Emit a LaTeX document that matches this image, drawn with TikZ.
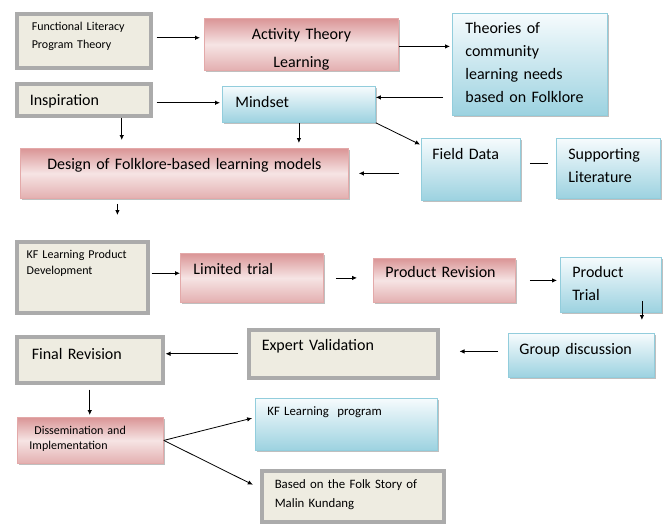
\documentclass[tikz,border=0pt]{standalone}
\usepackage{fontspec}
\setmainfont{Carlito}
\usepackage{tikz}
\usetikzlibrary{arrows.meta,shadows}

\definecolor{beige}{HTML}{EEECE1}
\definecolor{framegray}{HTML}{ABABAB}
\definecolor{pinkdark}{HTML}{DA9596}
\definecolor{pinklight}{HTML}{F6E4E4}
\definecolor{pinkline}{HTML}{E3A9A9}
\definecolor{bluedark}{HTML}{9CD2E0}
\definecolor{bluelight}{HTML}{F6FBFD}
\definecolor{blueline}{HTML}{92CDDC}

\begin{document}
\begin{tikzpicture}[x=1pt,y=-1pt,-{Latex[length=5pt,width=4.5pt]},line width=0.8pt]
	\tikzstyle{box} = [anchor=north west,inner ysep=0pt,align=left,font=\fontsize{16}{23}\selectfont]
	\tikzstyle{small} = [font=\fontsize{12}{18}\selectfont]
	\tikzstyle{frame} = [box,draw=framegray,line width=3.5pt,fill=beige,drop shadow={shadow xshift=1pt,shadow yshift=-2.5pt,fill=pinkdark!60!gray,opacity=0.6}]
	\tikzstyle{pinkbox} = [box,draw=pinkline,top color=pinkdark,bottom color=pinkdark!75!white,middle color=pinklight,drop shadow={shadow xshift=1.5pt,shadow yshift=-2pt,fill=black!50,opacity=0.5}]
	\tikzstyle{bluebox} = [box,draw=blueline,top color=bluelight,bottom color=bluedark,drop shadow={shadow xshift=1.5pt,shadow yshift=-2pt,fill=black!50,opacity=0.5}]

	\useasboundingbox (0,0) rectangle (667,525);

	% first rows
	\node[frame,small,inner xsep=15pt,text width=104pt,text height=17pt,text depth=37pt] (flpt) at (15,12) {Functional Literacy\\Program Theory};
	\node[pinkbox,align=center,inner xsep=0pt,text width=194pt,text height=21pt,text depth=31pt,font=\fontsize{16}{28}\selectfont] (act) at (204,18) {Activity Theory\\Learning};
	\node[bluebox,inner xsep=13pt,text width=129pt,text height=20pt,text depth=82pt] (theo) at (452,13) {Theories of\\community\\learning needs\\based on Folklore};
	\node[frame,inner xsep=13pt,text width=108pt,text height=22pt,text depth=10pt] (insp) at (15,82) {Inspiration};
	\node[bluebox,inner xsep=13pt,text width=127pt,text height=21pt,text depth=15pt] (mind) at (222,86) {Mindset};
	\node[pinkbox,align=center,inner xsep=0pt,text width=328pt,text height=21pt,text depth=29pt] (design) at (20,148) {Design of Folklore-based learning models};
	\node[bluebox,inner xsep=11pt,text width=77pt,text height=21pt,text depth=41pt] (field) at (421,138) {Field Data};
	\node[bluebox,inner xsep=12pt,text width=80pt,text height=21pt,text depth=39pt] (supp) at (556,138) {Supporting\\Literature};

	% development
	\node[frame,inner xsep=10pt,text width=111pt,text height=17pt,text depth=54pt,font=\fontsize{12}{16}\selectfont] (kfdev) at (15,240) {KF Learning Product\\Development};
	\node[pinkbox,inner xsep=13pt,text width=117pt,text height=21pt,text depth=28pt] (lim) at (180,253) {Limited trial};
	\node[pinkbox,inner xsep=12pt,text width=118pt,text height=19pt,text depth=25pt] (prev) at (373,258) {Product Revision};
	\node[bluebox,inner xsep=12pt,text width=77pt,text height=20pt,text depth=35pt] (ptrial) at (560,257) {Product\\Trial};
	\node[bluebox,inner xsep=11pt,text width=124pt,text height=21pt,text depth=23pt] (group) at (508,333) {Group discussion};
	\node[frame,inner xsep=13pt,text width=163pt,text height=21pt,text depth=27pt] (expert) at (247,328) {Expert Validation};
	\node[frame,inner xsep=15pt,text width=116pt,text height=23pt,text depth=23pt] (final) at (15,335) {Final Revision};

	% outputs
	\node[pinkbox,inner xsep=12pt,text width=122pt,text height=17pt,text depth=29pt,font=\fontsize{12}{15}\selectfont] (diss) at (17,417) {\hspace*{5pt}Dissemination and\\Implementation};
	\node[bluebox,inner xsep=12pt,text width=158pt,text height=17pt,text depth=35pt,font=\fontsize{12.8}{19}\selectfont] (kfprog) at (255,398) {KF Learning\ \ program};
	\node[frame,inner xsep=13pt,text width=156pt,text height=18pt,text depth=33pt,font=\fontsize{12.8}{19}\selectfont] (folk) at (260,469) {Based on the Folk Story of\\Malin Kundang};

	\path ([yshift=3pt]flpt.east) edge[shorten <=4pt,shorten >=4pt] ([yshift=3pt]flpt.east -| act.west);
	\path ([yshift=-2pt]act.east) edge[shorten >=2pt] ([yshift=-2pt]act.east -| theo.west);
	\path ([yshift=-3pt]insp.east) edge[shorten <=4pt,shorten >=2pt] ([yshift=-3pt]insp.east -| mind.west);
	\path ([yshift=7pt]mind.east -| theo.west) edge[shorten <=9pt] ([yshift=7pt]mind.east);
	\path ([xshift=38pt]insp.south) edge[shorten >=8pt] ([xshift=38pt]insp.south |- design.north);
	\path (mind.south) edge[shorten >=5pt] (mind.south |- design.north);
	\path (mind.south east) edge[shorten >=1pt] ([yshift=-7pt]field.north west);
	\path ([xshift=-22pt]design.east -| field.west) edge[shorten >=10pt] (design.east);
	\path ([yshift=6pt]field.east) edge[-,shorten <=9pt,shorten >=8pt] ([yshift=6pt]field.east -| supp.west);
	\path ([xshift=-67pt]design.south) edge[shorten <=5pt,shorten >=25pt] ([xshift=-67pt]design.south |- kfdev.north);

	\path ([yshift=4pt]kfdev.east) edge[shorten <=2pt] ([yshift=4pt]kfdev.east -| lim.west);
	\path (lim.east) edge[shorten <=12pt,shorten >=16pt] (lim.east -| prev.west);
	\path (prev.east) edge[shorten <=14pt,shorten >=3pt] (prev.east -| ptrial.west);
	\path ([xshift=31pt,yshift=12pt]ptrial.south) edge[shorten >=13pt] ([xshift=31pt]ptrial.south |- group.north);
	\path ([yshift=4pt]group.west) edge[shorten <=10pt,shorten >=20pt] ([yshift=4pt]group.west -| expert.east);
	\path (expert.west) edge[shorten <=9pt,shorten >=1pt] (expert.west -| final.east);
	\path (final.south) edge[shorten <=5pt,shorten >=2pt] (final.south |- diss.north);
	\path (diss.east) edge[shorten >=3pt] ([yshift=7pt]kfprog.west);
	\path (diss.east) edge[shorten >=8pt] ([yshift=8pt]folk.west);
\end{tikzpicture}
\end{document}
